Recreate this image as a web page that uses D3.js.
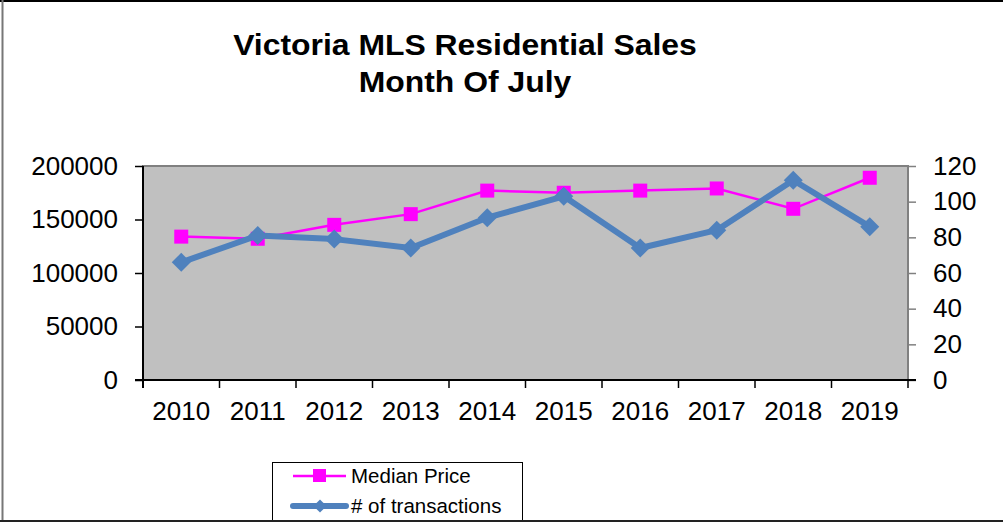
<!DOCTYPE html>
<html>
<head>
<meta charset="utf-8">
<script src="https://cdn.jsdelivr.net/npm/d3@7"></script>
<style>
  body { margin: 0; background: #fff; }
  text { font-family: "Liberation Sans", Arial, sans-serif; }
</style>
</head>
<body>
<div id="grafico"></div>
<script>
const anos = ["2010", "2011", "2012", "2013", "2014", "2015", "2016", "2017", "2018", "2019"];
const precoMediano = [134000, 132000, 145000, 155000, 177000, 175000, 177000, 179000, 160000, 189000];
const transacoes = [66, 81, 79, 74, 91, 103, 74, 84, 112, 86];
const ticksPreco = [0, 50000, 100000, 150000, 200000];
const ticksTransacoes = [0, 20, 40, 60, 80, 100, 120];

const largura = 1003;
const altura = 522;
const area = { left: 143, right: 908, top: 166, bottom: 380 };

const svg = d3.select("#grafico")
    .append("svg")
    .attr("width", largura)
    .attr("height", altura);

// moldura
svg.append("line").attr("x1", 0).attr("x2", largura).attr("y1", 1).attr("y2", 1)
    .attr("stroke", "#000").attr("stroke-width", 2);
svg.append("line").attr("x1", 2.5).attr("x2", 2.5).attr("y1", 0).attr("y2", altura)
    .attr("stroke", "#777").attr("stroke-width", 2);

// titulo (levemente esticado na horizontal como no original)
svg.append("text")
    .attr("transform", "translate(465,55) scale(1.1,1)")
    .attr("text-anchor", "middle")
    .style("font-size", "29px").style("font-weight", "bold")
    .text("Victoria MLS Residential Sales");
svg.append("text")
    .attr("transform", "translate(465,92) scale(1.1,1)")
    .attr("text-anchor", "middle")
    .style("font-size", "29px").style("font-weight", "bold")
    .text("Month Of July");

// escalas
const x = d3.scaleBand().domain(anos).range([area.left, area.right]);
const yEsq = d3.scaleLinear().domain([0, 200000]).range([area.bottom, area.top]);
const yDir = d3.scaleLinear().domain([0, 120]).range([area.bottom, area.top]);

// area do grafico
svg.append("rect")
    .attr("x", area.left).attr("y", area.top)
    .attr("width", area.right - area.left).attr("height", area.bottom - area.top)
    .attr("fill", "#c0c0c0").attr("stroke", "#808080").attr("stroke-width", 2);

// eixo esquerdo
const eixoEsq = svg.append("g")
    .attr("transform", `translate(${area.left},0)`)
    .call(d3.axisLeft(yEsq).tickValues(ticksPreco).tickFormat(d3.format("d")).tickSize(8).tickPadding(17));
// eixo direito
const eixoDir = svg.append("g")
    .attr("transform", `translate(${area.right},0)`)
    .call(d3.axisRight(yDir).tickValues(ticksTransacoes).tickSize(8).tickPadding(17));
// eixo x
const eixoX = svg.append("g")
    .attr("transform", `translate(0,${area.bottom})`)
    .call(d3.axisBottom(x).tickSize(0).tickPadding(22));

[eixoEsq, eixoDir, eixoX].forEach(g => {
    g.select(".domain").remove();
    g.selectAll("text").attr("fill", "#000").style("font-size", "26px")
        .style("font-family", "'Liberation Sans', Arial, sans-serif");
    g.selectAll("line").attr("stroke", "#000").attr("stroke-width", 1.5);
});
eixoDir.selectAll("line").attr("stroke", "#808080");

// linhas dos eixos
svg.append("line").attr("x1", area.left).attr("x2", area.left)
    .attr("y1", area.top).attr("y2", area.bottom + 8)
    .attr("stroke", "#000").attr("stroke-width", 2);
svg.append("line").attr("x1", area.left - 8).attr("x2", area.right + 8)
    .attr("y1", area.bottom).attr("y2", area.bottom)
    .attr("stroke", "#000").attr("stroke-width", 2);
// marcas entre categorias
const divisas = anos.map(a => x(a)).concat([area.right]);
svg.selectAll(".tick-x")
    .data(divisas)
    .enter()
    .append("line")
    .attr("x1", d => d).attr("x2", d => d)
    .attr("y1", area.bottom).attr("y2", area.bottom + 8)
    .attr("stroke", "#000").attr("stroke-width", 1.5);

const centro = a => x(a) + x.bandwidth() / 2;

// serie preco mediano
const linhaPreco = d3.line().x((d, i) => centro(anos[i])).y(d => yEsq(d));
svg.append("path")
    .datum(precoMediano)
    .attr("d", linhaPreco)
    .attr("fill", "none").attr("stroke", "#ff00ff").attr("stroke-width", 2.5);
svg.selectAll(".m-preco")
    .data(precoMediano)
    .enter()
    .append("rect")
    .attr("x", (d, i) => centro(anos[i]) - 7)
    .attr("y", d => yEsq(d) - 7)
    .attr("width", 14).attr("height", 14)
    .attr("fill", "#ff00ff");

// serie transacoes
const linhaTrans = d3.line().x((d, i) => centro(anos[i])).y(d => yDir(d));
svg.append("path")
    .datum(transacoes)
    .attr("d", linhaTrans)
    .attr("fill", "none").attr("stroke", "#4f81bd").attr("stroke-width", 6)
    .attr("stroke-linejoin", "round");
const diamante = d3.symbol().type(d3.symbolDiamond2).size(230);
svg.selectAll(".m-trans")
    .data(transacoes)
    .enter()
    .append("path")
    .attr("d", diamante)
    .attr("transform", (d, i) => `translate(${centro(anos[i])},${yDir(d)})`)
    .attr("fill", "#4f81bd");

// legenda
svg.append("rect")
    .attr("x", 272.5).attr("y", 462.5)
    .attr("width", 250).attr("height", 70)
    .attr("fill", "#fff").attr("stroke", "#000").attr("stroke-width", 1);
svg.append("line").attr("x1", 293).attr("x2", 346).attr("y1", 476).attr("y2", 476)
    .attr("stroke", "#ff00ff").attr("stroke-width", 2.5);
svg.append("rect").attr("x", 313).attr("y", 469).attr("width", 13).attr("height", 13)
    .attr("fill", "#ff00ff");
svg.append("line").attr("x1", 293).attr("x2", 346).attr("y1", 506).attr("y2", 506)
    .attr("stroke", "#4f81bd").attr("stroke-width", 6).attr("stroke-linecap", "round");
svg.append("path").attr("d", d3.symbol().type(d3.symbolDiamond2).size(110))
    .attr("transform", "translate(320,506)").attr("fill", "#4f81bd");
svg.append("text").attr("x", 351).attr("y", 483)
    .style("font-size", "20.5px").text("Median Price");
svg.append("text").attr("x", 351).attr("y", 513)
    .style("font-size", "20.5px").text("# of transactions");

// borda inferior por cima da legenda
svg.append("line").attr("x1", 0).attr("x2", largura).attr("y1", 521).attr("y2", 521)
    .attr("stroke", "#222").attr("stroke-width", 2);
</script>
</body>
</html>
